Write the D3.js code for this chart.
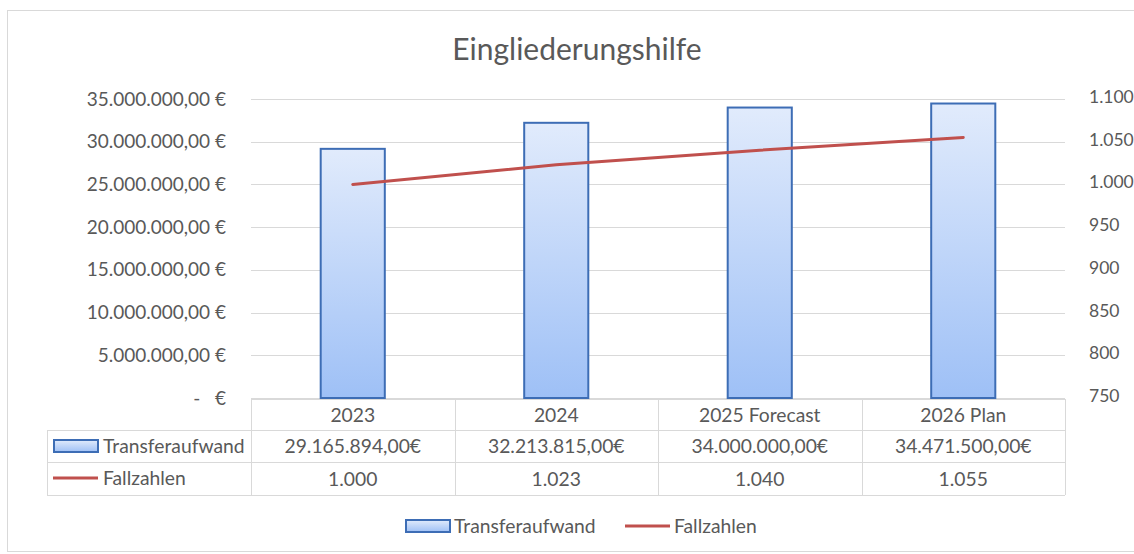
<!doctype html>
<html lang="de">
<head>
<meta charset="utf-8">
<title>Eingliederungshilfe</title>
<style>
    body {
        margin: 0;
        background: white;
        font-family: Lato, 'Noto Sans', sans-serif;
        color: #595959;
    }
    svg text {
        fill: #595959;
    }
</style>
</head>
<body>
<svg id="chart"></svg>
<script src="https://d3js.org/d3.v7.min.js"></script>
<script>
    var categories = ["2023", "2024", "2025 Forecast", "2026 Plan"];
    var transferaufwand = [29165894, 32213815, 34000000, 34471500];
    var fallzahlen = [1000, 1023, 1040, 1055];
    var leftTicks = [0, 5000000, 10000000, 15000000, 20000000, 25000000, 30000000, 35000000];
    var rightTicks = [750, 800, 850, 900, 950, 1000, 1050, 1100];
    var seriesNames = ["Transferaufwand", "Fallzahlen"];

    var svgWidth = 1134, svgHeight = 554;
    var plot = { left: 251, right: 1065, top: 99, bottom: 398 };
    var tableLeft = 47;
    var rowH = [399, 430, 462, 495];
    var fs = "19.3px";

    var de = d3.formatLocale({ decimal: ",", thousands: ".", grouping: [3], currency: ["", "€"] });
    var fmtMoney = de.format(",.2f");
    var fmtInt = de.format(",d");

    var svg = d3.select("#chart")
        .attr("width", svgWidth)
        .attr("height", svgHeight);

    // chart frame
    svg.append("rect")
        .attr("x", 7.5).attr("y", 10.5)
        .attr("width", 1140).attr("height", 541)
        .attr("fill", "none")
        .attr("stroke", "#d9d9d9");

    svg.append("text")
        .attr("x", 577).attr("y", 60)
        .attr("text-anchor", "middle")
        .style("font-size", "30px")
        .text("Eingliederungshilfe");

    var defs = svg.append("defs");
    var grad = defs.append("linearGradient")
        .attr("id", "barGrad")
        .attr("x1", 0).attr("y1", 0).attr("x2", 0).attr("y2", 1);
    grad.append("stop").attr("offset", "0%").attr("stop-color", "#e1ebfc");
    grad.append("stop").attr("offset", "100%").attr("stop-color", "#9ec0f6");

    var x = d3.scaleBand().domain(categories).range([plot.left, plot.right]);
    var yLeft = d3.scaleLinear().domain([0, 35000000]).range([plot.bottom, plot.top]);
    var yRight = d3.scaleLinear().domain([750, 1100]).range([plot.bottom, plot.top]);

    // gridlines
    svg.append("g")
        .selectAll("line")
        .data(leftTicks)
        .join("line")
        .attr("x1", plot.left).attr("x2", plot.right)
        .attr("y1", function (d) { return Math.round(yLeft(d)) + 0.5 })
        .attr("y2", function (d) { return Math.round(yLeft(d)) + 0.5 })
        .attr("stroke", "#d9d9d9");

    // left axis
    var axL = svg.append("g")
        .attr("transform", "translate(" + (plot.left - 22) + ",0)")
        .call(d3.axisLeft(yLeft).tickValues(leftTicks).tickSize(0)
            .tickFormat(function (d) { return d === 0 ? "-\u00a0\u00a0\u00a0€" : fmtMoney(d) + " €" }));
    axL.select(".domain").remove();
    axL.selectAll("text").style("font-size", "19px").style("font-family", "Lato, sans-serif").attr("fill", "#595959");

    // right axis
    var axR = svg.append("g")
        .attr("transform", "translate(" + (plot.right + 21) + ",0)")
        .call(d3.axisRight(yRight).tickValues(rightTicks).tickSize(0)
            .tickFormat(function (d) { return fmtInt(d) }));
    axR.select(".domain").remove();
    axR.selectAll("text").style("font-size", "17.5px").style("font-family", "Lato, sans-serif").attr("fill", "#595959")
        .attr("dy", "0.2em");

    // bars
    var barW = x.bandwidth() * 0.315;
    svg.append("g")
        .selectAll("rect")
        .data(transferaufwand)
        .join("rect")
        .attr("x", function (d, i) { return x(categories[i]) + (x.bandwidth() - barW) / 2 })
        .attr("y", function (d) { return yLeft(d) })
        .attr("width", barW)
        .attr("height", function (d) { return plot.bottom - yLeft(d) })
        .attr("fill", "url(#barGrad)")
        .attr("stroke", "#3d6db5")
        .attr("stroke-width", 2);

    // line
    var line = d3.line()
        .x(function (d, i) { return x(categories[i]) + x.bandwidth() / 2 })
        .y(function (d) { return yRight(d) });
    svg.append("path")
        .datum(fallzahlen)
        .attr("fill", "none")
        .attr("stroke", "#c0504d")
        .attr("stroke-width", 3)
        .attr("stroke-linecap", "round")
        .attr("d", line);

    // data table
    var tbl = svg.append("g").attr("stroke", "#d9d9d9").attr("fill", "none");
    tbl.append("line").attr("x1", plot.left).attr("x2", plot.right).attr("y1", rowH[0] + 0.5).attr("y2", rowH[0] + 0.5);
    [1, 2, 3].forEach(function (r) {
        tbl.append("line").attr("x1", tableLeft).attr("x2", plot.right).attr("y1", rowH[r] + 0.5).attr("y2", rowH[r] + 0.5);
    });
    tbl.append("line").attr("x1", tableLeft + 0.5).attr("x2", tableLeft + 0.5).attr("y1", rowH[1]).attr("y2", rowH[3]);
    var colEdges = categories.map(function (c) { return Math.round(x(c)) }).concat([plot.right]);
    tbl.selectAll(".col")
        .data(colEdges)
        .join("line")
        .attr("x1", function (d) { return d + 0.5 }).attr("x2", function (d) { return d + 0.5 })
        .attr("y1", rowH[0]).attr("y2", rowH[3]);

    var cellText = svg.append("g").style("font-size", fs).attr("text-anchor", "middle");
    cellText.selectAll(".h")
        .data(categories)
        .join("text")
        .attr("x", function (d) { return x(d) + x.bandwidth() / 2 })
        .attr("y", (rowH[0] + rowH[1]) / 2 + 7)
        .text(function (d) { return d });
    cellText.selectAll(".t")
        .data(transferaufwand)
        .join("text")
        .attr("x", function (d, i) { return x(categories[i]) + x.bandwidth() / 2 })
        .attr("y", (rowH[1] + rowH[2]) / 2 + 7)
        .text(function (d) { return fmtMoney(d) + "€" });
    cellText.selectAll(".f")
        .data(fallzahlen)
        .join("text")
        .attr("x", function (d, i) { return x(categories[i]) + x.bandwidth() / 2 })
        .attr("y", (rowH[2] + rowH[3]) / 2 + 7)
        .text(function (d) { return fmtInt(d) });

    // legend keys (table rows + bottom legend)
    function barKey(g, kx, ky) {
        g.append("rect").attr("x", kx).attr("y", ky).attr("width", 44).attr("height", 12)
            .attr("fill", "url(#barGrad)").attr("stroke", "#3d6db5").attr("stroke-width", 2);
    }
    function lineKey(g, kx, ky) {
        g.append("line").attr("x1", kx).attr("x2", kx + 45).attr("y1", ky).attr("y2", ky)
            .attr("stroke", "#c0504d").attr("stroke-width", 3);
    }
    var rows = svg.append("g").style("font-size", fs);
    barKey(rows, 54, 440);
    rows.append("text").attr("x", 103).attr("y", 453).text(seriesNames[0]);
    lineKey(rows, 53, 478);
    rows.append("text").attr("x", 103).attr("y", 485).text(seriesNames[1]);

    var legend = svg.append("g").style("font-size", fs);
    barKey(legend, 406, 520);
    legend.append("text").attr("x", 454).attr("y", 533).text(seriesNames[0]);
    lineKey(legend, 625, 526);
    legend.append("text").attr("x", 674).attr("y", 533).text(seriesNames[1]);
</script>
</body>
</html>
